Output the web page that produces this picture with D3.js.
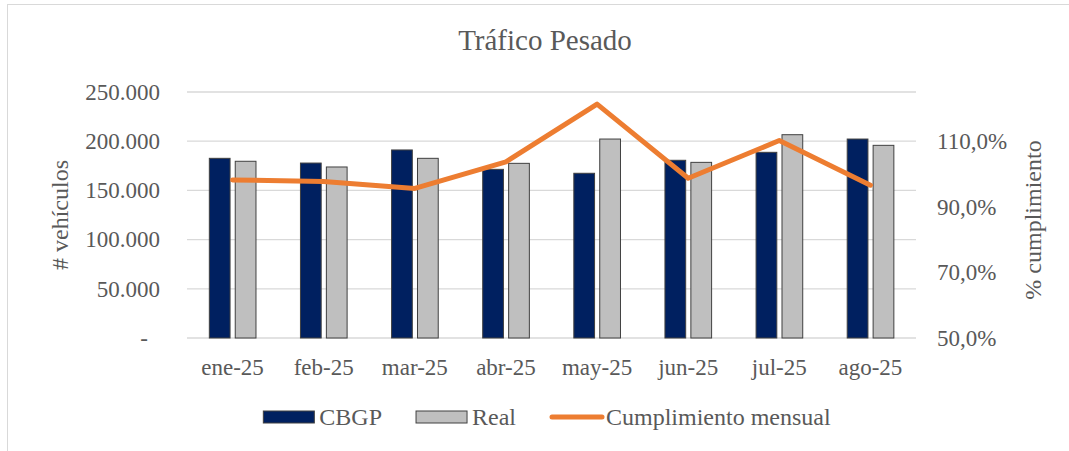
<!DOCTYPE html>
<html>
<head>
<meta charset="utf-8">
<script src="https://cdn.jsdelivr.net/npm/d3@7"></script>
<style>
  body { margin: 0; background: #fff; }
  text { font-family: "Liberation Serif", "Times New Roman", serif; fill: #595959; }
  .domain { display: none; }
</style>
</head>
<body>
<script>
const months = ["ene-25", "feb-25", "mar-25", "abr-25", "may-25", "jun-25", "jul-25", "ago-25"];
const cbgp = [182600, 177800, 191100, 171400, 167400, 180600, 188700, 202200];
const real = [179600, 173800, 182600, 177500, 202200, 178500, 206600, 195800];
const cumplimiento = [0.982, 0.977, 0.956, 1.037, 1.213, 0.987, 1.102, 0.966];
const leftTicks = [0, 50000, 100000, 150000, 200000, 250000];
const rightTicks = [0.5, 0.7, 0.9, 1.1];
const seriesNames = ["CBGP", "Real"];
const colors = { CBGP: "#002060", Real: "#bfbfbf", line: "#ed7d31" };

const width = 1069;
const height = 451;
const margin = { top: 92, right: 153, bottom: 113, left: 187 };

const locale = d3.formatLocale({ decimal: ",", thousands: ".", grouping: [3], currency: ["", ""] });

const svg = d3
  .select("body")
  .append("svg")
  .attr("width", width)
  .attr("height", height);

// chart frame
svg
  .append("rect")
  .attr("x", 7.5)
  .attr("y", 4.5)
  .attr("width", 1100)
  .attr("height", 500)
  .attr("fill", "none")
  .attr("stroke", "#d9d9d9");

const x0 = d3
  .scaleBand()
  .domain(months)
  .range([margin.left, width - margin.right]);
const x1 = d3
  .scaleBand()
  .domain(seriesNames)
  .range([x0.bandwidth() * 0.245, x0.bandwidth() * 0.757])
  .paddingInner(0.2);
const y = d3
  .scaleLinear()
  .domain([0, 250000])
  .range([height - margin.bottom, margin.top]);
const y2 = d3
  .scaleLinear()
  .domain([0.5, 1.25])
  .range([height - margin.bottom, margin.top]);

// Gridlines
svg
  .append("g")
  .selectAll("line")
  .data(leftTicks)
  .enter()
  .append("line")
  .attr("x1", margin.left)
  .attr("x2", width - margin.right)
  .attr("y1", (d) => y(d))
  .attr("y2", (d) => y(d))
  .attr("stroke", "#d9d9d9")
  .attr("stroke-width", 1.3);

// Axes
const yAxis = d3
  .axisLeft(y)
  .tickValues(leftTicks)
  .tickSize(0)
  .tickPadding(27)
  .tickFormat((d) => (d === 0 ? "-" : locale.format(",")(d)));
const gy = svg
  .append("g")
  .attr("transform", `translate(${margin.left}, 0)`)
  .call(yAxis);
gy.selectAll("text").style("font-size", "23px").attr("fill", "#595959");
gy.selectAll(".tick")
  .filter((d) => d === 0)
  .select("text")
  .attr("dx", -12);

const y2Axis = d3
  .axisRight(y2)
  .tickValues(rightTicks)
  .tickSize(0)
  .tickPadding(21)
  .tickFormat(locale.format(".1%"));
svg
  .append("g")
  .attr("transform", `translate(${width - margin.right}, 0)`)
  .call(y2Axis)
  .selectAll("text")
  .style("font-size", "23px")
  .attr("fill", "#595959");

const xAxis = d3.axisBottom(x0).tickSize(0).tickPadding(21);
svg
  .append("g")
  .attr("transform", `translate(0, ${height - margin.bottom})`)
  .call(xAxis)
  .selectAll("text")
  .style("font-size", "23px")
  .attr("fill", "#595959");

// Bars
const rows = months.map((m, i) => ({ month: m, CBGP: cbgp[i], Real: real[i] }));
svg
  .append("g")
  .selectAll("g")
  .data(rows)
  .enter()
  .append("g")
  .attr("transform", (d) => `translate(${x0(d.month)}, 0)`)
  .selectAll("rect")
  .data((d) => seriesNames.map((s) => ({ key: s, value: d[s] })))
  .enter()
  .append("rect")
  .attr("x", (d) => x1(d.key))
  .attr("y", (d) => y(d.value))
  .attr("width", x1.bandwidth())
  .attr("height", (d) => y(0) - y(d.value))
  .attr("fill", (d) => colors[d.key])
  .attr("stroke", "#404040")
  .attr("stroke-width", 1);

// Cumplimiento line
const line = d3
  .line()
  .x((d, i) => x0(months[i]) + x0.bandwidth() / 2)
  .y((d) => y2(d));
svg
  .append("path")
  .datum(cumplimiento)
  .attr("d", line)
  .attr("fill", "none")
  .attr("stroke", colors.line)
  .attr("stroke-width", 5)
  .attr("stroke-linejoin", "round")
  .attr("stroke-linecap", "round");

// Titles
svg
  .append("text")
  .attr("x", 545)
  .attr("y", 50)
  .attr("text-anchor", "middle")
  .style("font-size", "29px")
  .text("Tráfico Pesado");

svg
  .append("text")
  .attr("transform", `translate(60, ${(y(0) + y(250000)) / 2}) rotate(-90)`)
  .attr("text-anchor", "middle")
  .attr("dominant-baseline", "central")
  .style("font-size", "24px")
  .text("# vehículos");

svg
  .append("text")
  .attr("transform", `translate(1033, ${(y(0) + y(250000)) / 2 + 5}) rotate(-90)`)
  .attr("text-anchor", "middle")
  .attr("dominant-baseline", "central")
  .style("font-size", "24px")
  .text("% cumplimiento");

// Legend
const legendItems = [
  { label: "CBGP", type: "rect", color: colors.CBGP },
  { label: "Real", type: "rect", color: colors.Real },
  { label: "Cumplimiento mensual", type: "line", color: colors.line },
];
const legend = svg.append("g").attr("id", "legend");
let offset = 0;
legendItems.forEach((item) => {
  const g = legend.append("g").attr("transform", `translate(${offset}, 0)`);
  if (item.type === "rect") {
    g.append("rect")
      .attr("x", 0)
      .attr("y", -6)
      .attr("width", 51)
      .attr("height", 12)
      .attr("fill", item.color)
      .attr("stroke", "#404040");
  } else {
    g.append("line")
      .attr("x1", 2)
      .attr("x2", 52)
      .attr("y1", 0)
      .attr("y2", 0)
      .attr("stroke", item.color)
      .attr("stroke-width", 5)
      .attr("stroke-linecap", "round");
  }
  const t = g
    .append("text")
    .attr("x", 56)
    .attr("y", 0)
    .attr("dy", "0.33em")
    .style("font-size", "24px")
    .text(item.label);
  offset += 56 + t.node().getComputedTextLength() + 34;
});
const legendWidth = offset - 34;
legend.attr("transform", `translate(${547 - legendWidth / 2}, 417)`);
</script>
</body>
</html>
